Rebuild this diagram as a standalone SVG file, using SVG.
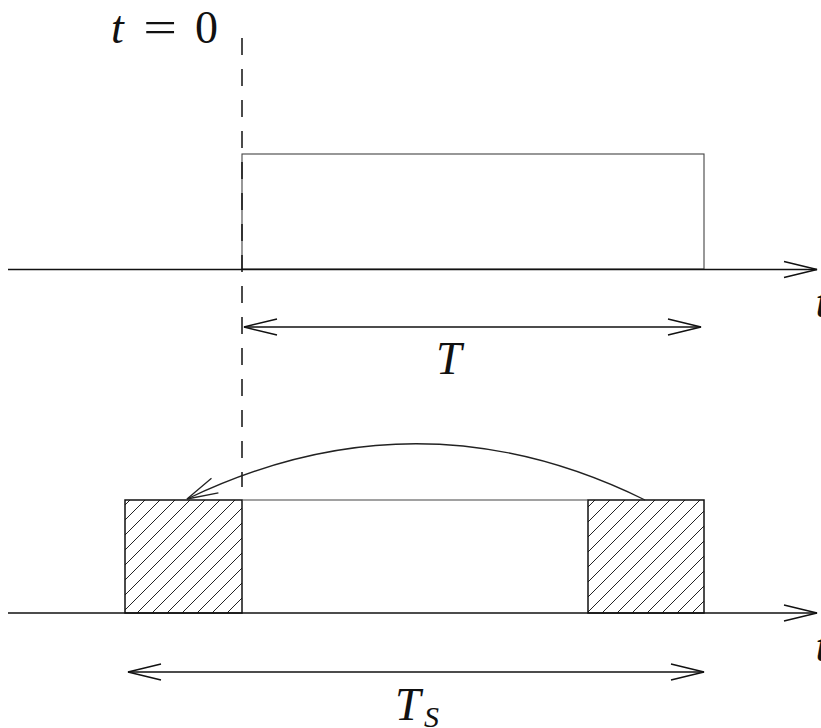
<svg xmlns="http://www.w3.org/2000/svg" width="821" height="728" viewBox="0 0 821 728">
<style>
.axis{stroke:#111;stroke-width:1.6;fill:none}
.thin{stroke:#444;stroke-width:1.1;fill:none}
.dim{stroke:#111;stroke-width:1.4;fill:none}
.lbl{font-family:"Liberation Serif","DejaVu Serif",serif;font-style:italic;fill:#111}
.num{font-family:"Liberation Serif","DejaVu Serif",serif;fill:#111}
</style>
<defs>
<marker id="arr" markerUnits="userSpaceOnUse" viewBox="-36 -10 38 20" markerWidth="38" markerHeight="20" refX="0" refY="0" orient="auto-start-reverse">
<path d="M-33,-8 L0,0 L-33,8" fill="none" stroke="#111" stroke-width="1.5"/>
</marker>
<marker id="arr2" markerUnits="userSpaceOnUse" viewBox="-36 -10 38 20" markerWidth="38" markerHeight="20" refX="0" refY="0" orient="auto">
<path d="M-31,-8 L0,0 L-31,8" fill="none" stroke="#222" stroke-width="1.3"/>
</marker>
<pattern id="hatch" patternUnits="userSpaceOnUse" width="15" height="15">
<path d="M0,15 L15,0 M-4,4 L4,-4 M11,19 L19,11" stroke="#222" stroke-width="1"/>
</pattern>
</defs>
<rect width="821" height="728" fill="#fff"/>
<g id="hatched-left">
<rect x="125" y="500" width="117" height="113" fill="url(#hatch)" stroke="#111" stroke-width="1.5"/>
</g>
<g id="hatched-right">
<rect x="588" y="500" width="116" height="113" fill="url(#hatch)" stroke="#111" stroke-width="1.5"/>
</g>
<g id="pulse">
<rect x="242" y="154" width="462" height="115" class="thin"/>
</g>
<g id="connectors">
<line x1="8" y1="269.5" x2="817" y2="269.5" class="axis" marker-end="url(#arr)"/>
<line x1="8" y1="613" x2="817" y2="613" class="axis" marker-end="url(#arr)"/>
<line x1="242" y1="38" x2="242" y2="487" stroke="#111" stroke-width="1.5" stroke-dasharray="17 14"/>
<line x1="242" y1="500" x2="588" y2="500" class="thin"/>
<line x1="244" y1="327" x2="701" y2="327" class="dim" marker-start="url(#arr)" marker-end="url(#arr)"/>
<line x1="128" y1="672" x2="704" y2="672" class="dim" marker-start="url(#arr)" marker-end="url(#arr)"/>
<path d="M645,500 Q418,388 187,499" fill="none" stroke="#222" stroke-width="1.3" marker-end="url(#arr2)"/>
</g>
<g id="labels">
<text x="111" y="43" font-size="46" class="lbl">t</text>
<text x="160" y="43" font-size="46" class="num" text-anchor="middle" transform="translate(160 0) scale(1.3 1) translate(-160 0)">=</text>
<text x="195" y="43" font-size="46" class="num">0</text>
<text x="436" y="374" font-size="46" class="lbl">T</text>
<text x="395" y="720" font-size="46" class="lbl">T</text>
<text x="424" y="727" font-size="30" class="lbl">S</text>
<text x="815.5" y="317" font-size="46" class="lbl">t</text>
<text x="815.5" y="661" font-size="46" class="lbl">t</text>
</g>
</svg>
